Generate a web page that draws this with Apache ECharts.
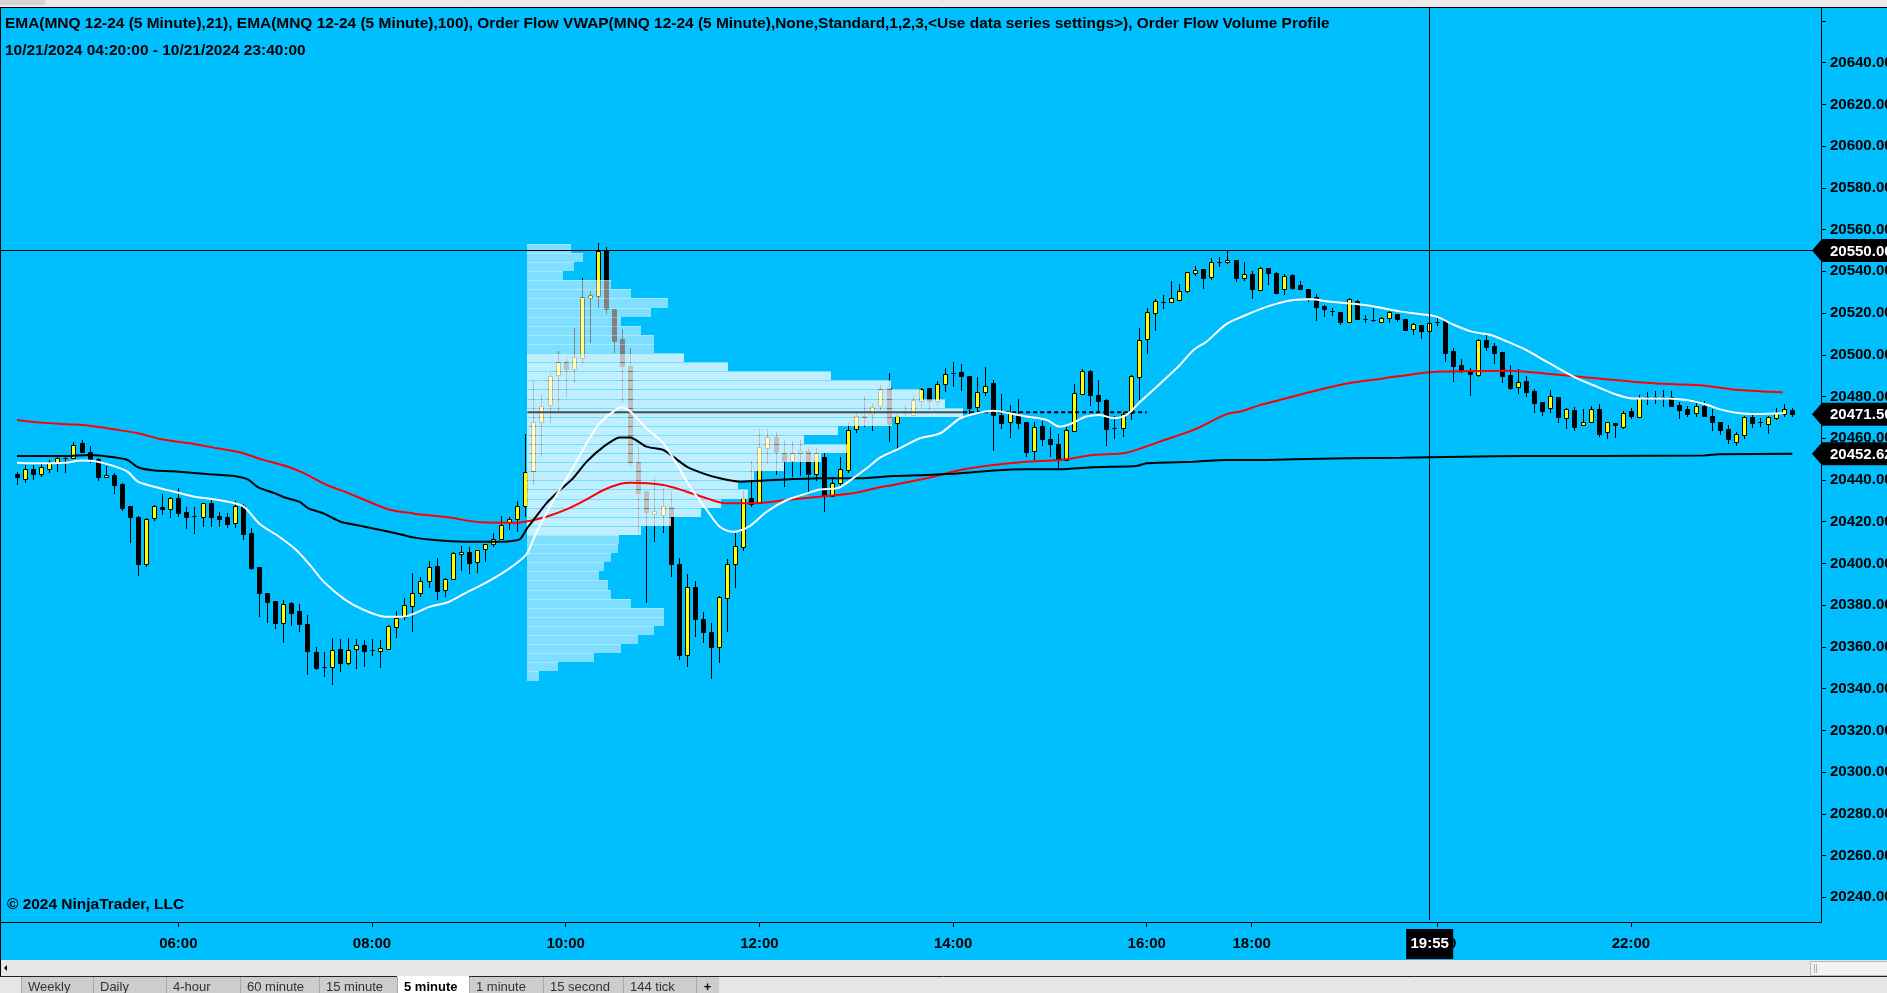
<!DOCTYPE html>
<html><head><meta charset="utf-8">
<script src="https://cdn.jsdelivr.net/npm/echarts@6.0.0/dist/echarts.min.js"></script>
<style>html,body{margin:0;padding:0;overflow:hidden;background:#e6e6e6}#c{width:1887px;height:993px}</style>
</head><body><div id="c"></div>
<script>
// ---------- DATA (bar index 0 = 04:20, 152 = 17:00, 153 = 18:05, 220 = 23:40) ----------
const opens = [20442.9,20440.6,20445.1,20442.7,20445.1,20448.3,20450.4,20450.4,20457.9,20453.6,
20449.9,20441.3,20442.4,20438.1,20427.5,20422.4,20399.9,20421.6,20426.9,20425.9,
20431.4,20424.7,20422.9,20422.4,20428.8,20422.7,20422.1,20419.6,20427.5,20414.4,
20398.1,20386.0,20381.8,20371.3,20380.9,20377.2,20371.0,20357.6,20350.2,20350.2,
20358.8,20352.1,20358.8,20360.8,20358.5,20358.2,20358.8,20369.7,20374.5,20379.8,
20386.0,20391.8,20398.8,20387.3,20392.6,20404.4,20405.5,20400.9,20407.1,20409.2,
20411.6,20419.7,20421.1,20427.5,20444.3,20467.6,20475.9,20490.2,20496.4,20493.2,
20498.5,20527.1,20528.2,20550.2,20521.8,20507.4,20494.8,20448.8,20434.7,20423.7,
20423.2,20426.9,20399.6,20356.0,20388.6,20373.2,20367.0,20360.1,20383.5,20399.6,
20407.7,20431.4,20429.1,20455.2,20460.5,20453.1,20449.3,20452.8,20453.9,20442.7,
20451.2,20432.3,20438.4,20444.8,20464.3,20470.4,20471.6,20475.5,20484.3,20467.2,
20472.0,20471.2,20478.0,20483.9,20478.0,20485.9,20491.1,20491.9,20489.8,20474.8,
20482.3,20486.3,20471.2,20467.6,20471.2,20467.6,20453.7,20465.9,20459.5,20457.3,
20449.6,20463.6,20481.2,20492.2,20480.7,20478.3,20465.1,20465.1,20472.3,20489.5,
20507.4,20519.9,20525.5,20525.2,20526.3,20530.4,20539.4,20541.0,20537.1,20544.6,
20544.3,20545.4,20536.7,20538.7,20531.1,20541.6,20539.4,20531.4,20538.3,20533.5,
20531.4,20527.5,20523.4,20521.2,20520.7,20515.9,20525.8,20517.0,20516.7,20515.9,
20517.5,20519.6,20517.0,20512.5,20514.3,20511.6,20515.9,20516.2,20501.8,20495.1,
20492.7,20490.3,20507.1,20504.2,20501.2,20490.3,20484.7,20487.4,20482.6,20477.2,
20474.4,20479.8,20469.6,20473.6,20466.2,20467.9,20473.9,20463.2,20467.2,20465.6,
20472.9,20470.0,20479.6,20479.6,20479.6,20479.6,20475.9,20474.0,20471.9,20475.5,
20470.7,20467.6,20464.3,20458.4,20461.4,20470.0,20467.6,20467.0,20469.6,20471.6,
20473.6];
const highs = [20444.0,20447.2,20447.0,20448.8,20449.6,20451.5,20452.0,20458.4,20459.2,20456.3,
20450.4,20446.7,20443.2,20438.4,20427.5,20422.7,20421.6,20428.0,20433.3,20432.0,
20436.0,20426.9,20427.2,20429.1,20430.4,20424.7,20424.0,20429.9,20428.5,20416.8,
20398.5,20386.0,20382.2,20382.5,20381.7,20380.6,20375.3,20359.8,20357.7,20364.1,
20363.9,20364.1,20363.6,20363.3,20363.6,20363.3,20370.5,20377.2,20383.3,20395.3,
20393.7,20401.2,20402.4,20392.9,20405.6,20408.3,20407.9,20406.5,20409.3,20414.4,
20422.7,20422.1,20429.8,20462.0,20487.5,20481.2,20491.9,20502.0,20499.1,20512.7,
20536.7,20530.6,20553.4,20551.5,20521.8,20512.2,20503.1,20455.7,20434.7,20441.3,
20435.5,20434.7,20402.5,20395.0,20391.6,20376.9,20371.3,20384.4,20402.0,20414.4,
20434.7,20449.3,20464.3,20464.3,20463.2,20459.2,20458.8,20459.2,20456.0,20455.2,
20453.1,20441.6,20450.9,20467.2,20472.8,20480.4,20477.1,20485.5,20491.1,20472.8,
20475.9,20480.2,20484.3,20483.9,20487.6,20493.8,20496.4,20495.6,20489.8,20489.5,
20494.3,20487.9,20481.2,20475.9,20478.7,20467.6,20467.6,20468.3,20465.6,20462.0,
20465.2,20486.0,20493.2,20492.7,20487.9,20478.7,20470.7,20472.8,20490.3,20512.7,
20522.3,20526.6,20528.7,20535.4,20533.9,20539.8,20542.6,20541.0,20546.2,20546.7,
20549.9,20545.4,20544.6,20540.0,20541.9,20541.6,20539.7,20538.7,20538.7,20535.5,
20531.4,20529.0,20523.9,20522.6,20520.7,20527.1,20526.3,20519.1,20522.3,20518.0,
20521.2,20519.6,20517.0,20515.4,20514.3,20517.0,20517.5,20516.2,20503.1,20497.8,
20493.5,20507.4,20509.5,20505.5,20501.2,20495.1,20493.0,20489.8,20483.6,20477.2,
20483.1,20479.8,20474.4,20474.8,20473.9,20475.5,20476.4,20467.9,20467.2,20473.1,
20474.4,20480.7,20482.3,20482.6,20483.1,20482.8,20477.5,20475.5,20477.1,20478.0,
20473.9,20467.9,20466.4,20462.8,20470.7,20472.3,20469.6,20470.7,20474.4,20476.4,
20474.4];
const lows = [20437.6,20438.4,20440.0,20441.3,20443.5,20444.0,20443.5,20449.9,20453.1,20448.0,
20439.7,20441.3,20433.3,20425.1,20410.0,20394.0,20398.5,20420.5,20423.2,20421.6,
20422.1,20416.5,20414.1,20417.6,20417.6,20417.6,20417.1,20417.0,20411.2,20396.9,
20374.5,20371.3,20368.4,20361.7,20370.0,20367.3,20346.5,20348.9,20345.4,20341.7,
20348.1,20351.3,20349.3,20350.2,20355.6,20350.0,20358.8,20364.1,20372.9,20367.3,
20383.8,20388.1,20382.5,20383.8,20392.1,20396.5,20394.9,20395.6,20400.9,20408.0,
20411.2,20416.0,20415.1,20422.4,20437.6,20451.2,20467.2,20472.0,20479.9,20486.3,
20496.2,20505.8,20522.3,20519.6,20500.7,20476.7,20446.1,20414.8,20381.2,20410.4,
20414.8,20393.7,20353.7,20350.2,20364.6,20361.7,20344.5,20352.1,20367.3,20388.1,
20406.1,20427.2,20429.1,20448.0,20442.4,20436.5,20441.6,20441.9,20433.3,20439.7,
20424.8,20432.0,20436.8,20443.5,20462.4,20465.3,20463.6,20473.6,20458.4,20454.9,
20470.4,20470.8,20474.3,20473.6,20475.5,20482.3,20484.7,20482.8,20471.6,20472.4,
20480.2,20454.1,20464.3,20460.0,20464.5,20451.2,20449.6,20456.3,20451.2,20445.1,
20449.3,20463.6,20480.7,20475.6,20472.8,20456.3,20459.6,20460.8,20468.8,20478.3,
20500.4,20511.6,20522.0,20524.7,20526.0,20529.5,20537.9,20531.5,20535.9,20542.2,
20543.4,20534.7,20535.5,20526.8,20530.6,20533.5,20529.5,20528.7,20531.1,20531.1,
20525.5,20516.4,20518.3,20518.6,20514.3,20515.1,20516.7,20515.4,20515.9,20515.9,
20515.4,20515.9,20511.6,20509.5,20507.6,20509.5,20513.8,20496.7,20487.1,20491.1,
20480.4,20489.5,20502.0,20495.6,20486.6,20483.1,20481.2,20479.6,20472.3,20470.8,
20472.3,20467.2,20464.4,20463.6,20465.9,20467.5,20460.8,20459.5,20460.0,20464.3,
20469.1,20470.0,20475.9,20476.4,20475.2,20475.2,20469.2,20470.4,20470.4,20470.4,
20463.6,20461.6,20457.1,20456.5,20459.7,20465.1,20465.6,20462.0,20468.7,20470.0,
20470.4];
const closes = [20441.3,20445.1,20443.0,20446.1,20448.5,20450.4,20450.4,20456.8,20453.6,20449.9,
20441.6,20442.2,20437.6,20426.7,20422.4,20399.9,20421.1,20427.5,20425.9,20431.2,
20424.3,20422.1,20422.9,20428.8,20422.4,20421.5,20418.9,20427.5,20414.0,20397.7,
20385.7,20381.7,20371.6,20380.6,20376.4,20371.0,20358.2,20350.0,20350.2,20358.5,
20352.1,20358.5,20360.8,20358.2,20358.5,20359.5,20369.9,20373.7,20379.9,20385.7,
20391.8,20398.1,20387.0,20392.4,20404.8,20405.3,20400.4,20406.3,20409.2,20411.6,
20418.3,20421.1,20427.7,20443.8,20467.6,20475.6,20489.8,20496.4,20493.2,20498.8,
20527.6,20528.5,20549.6,20521.8,20506.8,20494.8,20448.8,20433.9,20424.8,20425.3,
20427.5,20399.6,20356.1,20388.6,20373.2,20367.0,20359.8,20383.8,20399.6,20408.4,
20431.4,20428.5,20455.7,20460.5,20453.6,20449.3,20452.8,20453.9,20442.9,20452.8,
20432.3,20438.7,20445.1,20464.0,20470.7,20470.7,20474.8,20483.5,20466.7,20470.8,
20472.0,20478.3,20483.5,20478.0,20485.9,20490.8,20491.1,20490.0,20474.7,20482.3,
20485.0,20471.0,20467.2,20472.8,20467.5,20453.6,20465.2,20459.8,20457.3,20449.6,
20464.0,20481.5,20492.1,20480.7,20478.0,20464.6,20465.1,20471.6,20489.8,20507.1,
20520.4,20525.8,20525.5,20527.1,20530.4,20539.5,20540.5,20537.0,20544.6,20544.6,
20545.4,20536.7,20538.6,20531.4,20541.4,20539.1,20529.8,20537.8,20532.2,20531.4,
20527.5,20523.1,20521.8,20521.2,20515.9,20526.6,20517.2,20517.0,20516.7,20517.5,
20520.4,20517.2,20511.9,20514.6,20511.6,20515.1,20515.9,20501.0,20494.6,20492.7,
20490.8,20507.1,20503.9,20500.7,20489.8,20483.9,20486.8,20482.3,20476.7,20473.2,
20480.3,20470.0,20473.9,20465.6,20467.6,20473.9,20462.2,20467.6,20466.2,20472.3,
20470.8,20479.1,20479.6,20479.6,20479.6,20475.6,20473.6,20471.6,20475.5,20470.8,
20467.9,20464.0,20459.5,20462.0,20470.4,20467.5,20467.6,20470.0,20472.3,20473.9,
20471.5];

// EMA(21) – white as [bar, price]
const ema21 = [[0,20448.3],[2,20448.0],[6,20448.3],[8,20449.3],[10,20448.8],[12,20446.7],[13.7,20444.0],[15,20439.2],[17,20436.8],[20,20433.9],[22,20432.0],[25,20430.4],[28,20427.5],[30,20419.2],[32.5,20412.8],[34.6,20406.5],[36.3,20399.3],[38,20391.3],[40.6,20382.8],[43,20377.7],[45.7,20374.5],[47.8,20374.5],[51.2,20379.3],[53.4,20381.4],[55.5,20385.7],[57.6,20389.7],[59.8,20394.5],[61.9,20400.1],[63.2,20404.8],[64.4,20415.2],[66.5,20430.4],[68.5,20443.2],[70.6,20457.6],[72.2,20467.2],[73.9,20472.8],[74.9,20474.7],[76,20472.8],[78,20464.8],[80.1,20457.6],[81.7,20448.0],[83.4,20436.8],[85.5,20425.6],[87.1,20417.6],[88.8,20415.2],[90.8,20417.9],[92.9,20424.8],[95.4,20430.4],[97.9,20433.6],[99.5,20435.5],[101.6,20436.0],[103.6,20440.8],[105.3,20445.6],[107,20450.8],[109.4,20455.2],[111.9,20460.0],[114.4,20462.4],[116.9,20469.6],[119.3,20472.3],[121,20473.2],[123,20472.0],[125.1,20470.4],[127.6,20468.8],[129.2,20465.6],[130.5,20466.8],[132.5,20470.4],[134.2,20471.2],[135.9,20469.6],[137.5,20471.2],[139.2,20477.5],[140.8,20483.1],[142.5,20489.2],[144.1,20495.1],[145.8,20502.3],[147.4,20506.3],[149.9,20514.8],[152,20518.6],[154,20521.8],[156,20524.4],[158.2,20526.3],[160.4,20526.6],[162.6,20525.5],[164.8,20524.7],[167,20523.9],[169.3,20522.3],[171.5,20520.7],[173.7,20519.6],[175.9,20518.3],[178.1,20514.3],[180.3,20511.1],[182.5,20509.6],[184.7,20506.3],[187,20502.3],[189.2,20497.5],[191.4,20492.7],[193.6,20488.2],[195.8,20484.7],[198,20481.2],[200.2,20479.1],[204.7,20479.1],[206.9,20478.3],[209.1,20476.4],[211.3,20473.6],[213.5,20472.0],[215.7,20471.6],[219,20472.0]];
// EMA(100) – red
const ema100 = [[0,20468.8],[3,20467.5],[6.4,20466.7],[9,20466.0],[12,20464.3],[15,20462.4],[17.9,20459.5],[21.4,20457.6],[24.8,20455.2],[27.8,20453.1],[30.3,20449.9],[33.3,20446.7],[35.4,20443.5],[38.4,20437.6],[40.6,20434.4],[43.1,20430.4],[46.1,20425.9],[49.1,20424.0],[53.4,20422.1],[57.6,20419.7],[61.9,20419.5],[63.6,20420.5],[65.6,20422.4],[68.1,20425.9],[70.6,20430.7],[72.7,20435.2],[74.7,20438.1],[76,20438.7],[80.1,20437.6],[83,20434.4],[85.5,20431.2],[87.9,20428.8],[91.2,20428.8],[95.4,20430.4],[99.5,20432.0],[103.6,20433.6],[106.9,20436.5],[108.6,20437.6],[112.7,20440.8],[116.9,20444.8],[121,20447.2],[125.1,20448.8],[129.2,20449.6],[133.4,20452.0],[137.5,20453.1],[141.6,20458.4],[145.8,20464.0],[149.9,20471.6],[151.6,20472.8],[154,20475.9],[156,20477.9],[160.4,20482.3],[164.8,20486.3],[169.3,20488.7],[173.7,20491.1],[175.9,20491.9],[180.3,20492.2],[184.7,20492.4],[187,20491.9],[189.2,20491.1],[193.6,20489.5],[200.2,20487.1],[204.7,20486.0],[209.1,20485.2],[213.5,20483.1],[218.8,20482.0]];
// Order Flow VWAP – black
const vwap = [[0,20451.5],[6,20451.5],[9,20452.0],[12,20450.9],[13.7,20449.6],[15,20446.1],[17.1,20444.5],[20.1,20444.0],[23.5,20442.9],[26.9,20441.9],[28.6,20440.3],[29.9,20436.5],[32,20433.6],[33.3,20431.5],[35,20429.6],[36.1,20426.4],[38,20424.0],[40.1,20420.0],[43.1,20417.6],[46.1,20415.2],[49.1,20412.5],[51.7,20411.2],[55.5,20410.4],[59.8,20410.4],[62.3,20411.5],[63.2,20416.8],[64,20420.8],[65.6,20428.8],[67.3,20435.2],[68.9,20440.8],[70.6,20448.8],[72.7,20456.0],[74.7,20460.4],[76,20460.4],[78,20456.0],[80.1,20454.4],[81.3,20451.2],[83,20446.4],[85,20443.2],[87.1,20440.8],[89.6,20439.2],[92.1,20439.7],[95.4,20440.3],[99.5,20440.8],[104.5,20440.8],[108.6,20441.9],[112.7,20442.4],[116.9,20443.2],[121,20444.5],[125.1,20445.1],[129.2,20445.1],[133.4,20446.1],[138.7,20446.7],[140,20448.0],[141.6,20448.3],[145.8,20448.8],[149.9,20449.6],[154,20449.6],[158.2,20449.9],[164.8,20450.4],[171.5,20450.7],[179,20451.2],[187,20451.5],[195.8,20451.5],[209.1,20451.8],[210.9,20452.3],[220,20452.62]];

// Order Flow Volume Profile (RTH session, starts at bar 63.25, ends 140)
const profileStartBar = 63.25;
const profileEndBar = 140;
const profileRowSize = 4.36;
const profileRowTop = [20553.2,20548.84,20544.48,20540.12,20535.76,20531.4,20527.03,20522.67,20518.31,20513.95,20509.59,20505.23,20500.87,20496.51,20492.15,20487.79,20483.42,20479.06,20474.7,20470.34,20465.98,20461.62,20457.26,20452.9,20448.54,20444.18,20439.81,20435.45,20431.09,20426.73,20422.37,20418.01,20413.65,20409.29,20404.93,20400.57,20396.2,20391.84,20387.48,20383.12,20378.76,20374.4,20370.04,20365.68,20361.32,20356.96,20352.59,20348.23];
const profileVolume = [44,56,47,36,84,104,141,124,94,114,127,127,157,201,304,365,395,419,437,366,311,277,321,294,257,227,211,221,194,174,144,114,92,91,84,77,72,81,84,104,137,137,127,111,94,67,31,12];
const valueAreaHigh = 20500.87, valueAreaLow = 20413.65;

// crosshair and labels
const crossBar = 175, crossTime = '19:55', crossPrice = 20550.00;
const xTickBars = [20,44,68,92,116,140,153,176,200];
const xTickLabels = ['06:00','08:00','10:00','12:00','14:00','16:00','18:00','20:00','22:00'];
const yTickValues = [20240,20260,20280,20300,20320,20340,20360,20380,20400,20420,20440,20460,20480,20500,20520,20540,20560,20580,20600,20620,20640,20660];
const yLabelValues = yTickValues.slice(0, 21);

const titleLine1 = 'EMA(MNQ 12-24 (5 Minute),21), EMA(MNQ 12-24 (5 Minute),100), Order Flow VWAP(MNQ 12-24 (5 Minute),None,Standard,1,2,3,<Use data series settings>), Order Flow Volume Profile';
const titleLine2 = '10/21/2024 04:20:00 - 10/21/2024 23:40:00';
const copyright = '\u00A9 2024 NinjaTrader, LLC';
const tabLabels = ['Weekly','Daily','4-hour','60 minute','15 minute','5 minute','1 minute','15 second','144 tick','+'];
const activeTab = '5 minute';

// ---------- BUILD ----------
const FAM = '"Liberation Sans", Arial, sans-serif';
const mctx = document.createElement('canvas').getContext('2d');
function fit(text, w, weight) { mctx.font = weight + ' 100px ' + FAM; return 100 * w / mctx.measureText(text).width; }
const titleSize = Math.min(17, fit(titleLine1, 1325, 'bold'));

const candleData = opens.map((o, i) => [i, o, highs[i], lows[i], closes[i]]);
const maxVol = Math.max.apply(null, profileVolume);
const pocIdx = profileVolume.indexOf(maxVol);
const pocPrice = profileRowTop[pocIdx] - profileRowSize / 2;
const pocWidthBars = 54.0;
const profileData = profileRowTop.map((t, k) => {
  const b = t - profileRowSize;
  const va = (t <= valueAreaHigh + 0.01 && b >= valueAreaLow - 0.01) ? 1 : 0;
  return [profileStartBar, t, b, profileVolume[k], va];
});

function renderCandle(params, api) {
  const x = api.value(0), o = api.value(1), h = api.value(2), l = api.value(3), c = api.value(4);
  const pO = api.coord([x, o]), pC = api.coord([x, c]), pH = api.coord([x, h]), pL = api.coord([x, l]);
  const cx = Math.round(pO[0]);
  const top = Math.round(Math.min(pO[1], pC[1])), bot = Math.round(Math.max(pO[1], pC[1]));
  const up = c > o;
  return { type: 'group', children: [
    { type: 'line', shape: { x1: cx + 0.5, y1: Math.round(pH[1]), x2: cx + 0.5, y2: Math.round(pL[1]) }, style: { stroke: '#000', lineWidth: 1 } },
    { type: 'rect', shape: { x: cx - 1.5, y: top + 0.5, width: 4, height: Math.max(bot - top, 0) }, style: { fill: up ? '#ffff00' : '#000', stroke: '#000', lineWidth: 1 } }
  ]};
}
function renderProfile(params, api) {
  const s = api.value(0), t = api.value(1), b = api.value(2), v = api.value(3), va = api.value(4);
  const w = v / maxVol * pocWidthBars;
  const p1 = api.coord([s, t]), p2 = api.coord([s + w, b]);
  const x1 = Math.round(p1[0]), x2 = Math.round(p2[0]), y1 = Math.round(p1[1]), y2 = Math.round(p2[1]);
  return { type: 'group', children: [
    { type: 'rect', shape: { x: x1, y: y1 + 1, width: x2 - x1, height: Math.max(y2 - y1 - 1, 0) }, style: { fill: va ? 'rgba(255,255,255,0.75)' : 'rgba(255,255,255,0.5)' } },
    { type: 'rect', shape: { x: x1, y: y1, width: x2 - x1, height: 1 }, style: { fill: va ? 'rgba(255,255,255,0.45)' : 'rgba(255,255,255,0.65)' } }
  ]};
}

const chart = echarts.init(document.getElementById('c'), null, { renderer: 'canvas' });
const axisFont = { fontFamily: FAM, fontWeight: 'bold', fontSize: 15, color: '#000' };

chart.setOption({
  animation: false,
  backgroundColor: '#00bfff',
  grid: { left: 0, right: 66, top: 7, bottom: 71, containLabel: false, outerBoundsMode: 'none' },
  xAxis: {
    type: 'value', min: -2.1, max: 223.55,
    axisLine: { show: true, onZero: false, lineStyle: { color: '#000', width: 1 } },
    axisTick: { show: true, length: 5, lineStyle: { color: '#000' }, customValues: xTickBars },
    axisLabel: Object.assign({ margin: 14, customValues: xTickBars,
      formatter: v => { const k = xTickBars.indexOf(Math.round(v)); return k >= 0 ? xTickLabels[k] : ''; } }, axisFont),
    splitLine: { show: false }
  },
  yAxis: {
    type: 'value', position: 'right', min: 20228.16, max: 20666.70,
    axisLine: { show: true, onZero: false, lineStyle: { color: '#000', width: 1 } },
    axisTick: { show: true, length: 5, lineStyle: { color: '#000' }, customValues: yTickValues },
    axisLabel: Object.assign({ margin: 9, customValues: yLabelValues, formatter: v => v.toFixed(2) }, axisFont),
    splitLine: { show: false }
  },
  series: [
    { type: 'custom', name: 'MNQ 12-24', renderItem: renderCandle, data: candleData, z: 2, silent: true, encode: { x: 0, y: [1, 2, 3, 4] } },
    { type: 'custom', name: 'Volume Profile', renderItem: renderProfile, data: profileData, z: 3, silent: true, encode: { x: 0, y: [1, 2] } },
    { type: 'line', name: 'POC', data: [[profileStartBar, pocPrice], [profileStartBar + pocWidthBars, pocPrice]], symbol: 'none', lineStyle: { color: '#3a3a3a', width: 2, opacity: 0.9 }, z: 4, silent: true },
    { type: 'line', name: 'POC ext', data: [[profileStartBar + pocWidthBars, pocPrice], [profileEndBar, pocPrice]], symbol: 'none', lineStyle: { color: '#000', width: 2, type: [4, 3] }, z: 4, silent: true },
    { type: 'line', name: 'EMA100', data: ema100, symbol: 'none', smooth: 0.3, lineStyle: { color: '#ff0000', width: 2 }, z: 5, silent: true },
    { type: 'line', name: 'VWAP', data: vwap, symbol: 'none', smooth: 0.2, lineStyle: { color: '#000', width: 2 }, z: 5, silent: true },
    { type: 'line', name: 'EMA21', data: ema21, symbol: 'none', smooth: 0.3, lineStyle: { color: '#ffffff', width: 2 }, z: 6, silent: true }
  ]
});

// ---------- overlays (positions from the chart's own scales) ----------
const cross = chart.convertToPixel({ gridIndex: 0 }, [crossBar, crossPrice]);
const lastY = chart.convertToPixel({ gridIndex: 0 }, [0, closes[closes.length - 1]])[1];
const vwapY = chart.convertToPixel({ gridIndex: 0 }, [0, vwap[vwap.length - 1][1]])[1];
const plotTop = 7, plotBottom = 922, W = 1887;

function priceTag(y, text) {
  return [
    { type: 'polygon', z: 100, shape: { points: [[1812, y], [1822, y - 11.5], [W, y - 11.5], [W, y + 11.5], [1822, y + 11.5]] }, style: { fill: '#000' } },
    { type: 'text', z: 101, style: { x: 1830, y: y + 1, text: text, fill: '#fff', font: 'bold 15px ' + FAM, align: 'left', verticalAlign: 'middle' } }
  ];
}
const g = [];
// window chrome
g.push({ type: 'rect', z: 90, shape: { x: 0, y: 0, width: W, height: 7 }, style: { fill: '#ebebeb' } });
g.push({ type: 'rect', z: 90, shape: { x: 0, y: 0, width: 45, height: 5 }, style: { fill: '#d4d4d4' } });
g.push({ type: 'line', z: 91, shape: { x1: 0, y1: 7.5, x2: W, y2: 7.5 }, style: { stroke: '#000', lineWidth: 1 } });
g.push({ type: 'line', z: 91, shape: { x1: 0.5, y1: 7, x2: 0.5, y2: 976 }, style: { stroke: '#000', lineWidth: 1 } });
g.push({ type: 'rect', z: 90, shape: { x: 0, y: 960, width: W, height: 33 }, style: { fill: '#e6e6e6' } });
g.push({ type: 'line', z: 91, shape: { x1: 0.5, y1: 960, x2: 0.5, y2: 976 }, style: { stroke: '#000', lineWidth: 1 } });
g.push({ type: 'polygon', z: 91, shape: { points: [[4, 968], [7, 965], [7, 971]] }, style: { fill: '#000' } });
g.push({ type: 'rect', z: 91, shape: { x: 1810.5, y: 961.5, width: 80, height: 14 }, style: { fill: '#f2f2f2', stroke: '#b9b9b9', lineWidth: 1 } });
g.push({ type: 'line', z: 92, shape: { x1: 1814.5, y1: 964, x2: 1814.5, y2: 973 }, style: { stroke: '#b0b0b0', lineWidth: 1 } });
g.push({ type: 'line', z: 92, shape: { x1: 1816.5, y1: 964, x2: 1816.5, y2: 973 }, style: { stroke: '#b0b0b0', lineWidth: 1 } });
g.push({ type: 'line', z: 91, shape: { x1: 0, y1: 976.5, x2: W, y2: 976.5 }, style: { stroke: '#222', lineWidth: 1 } });
// tabs
const tabEdges = [21, 93, 166, 240, 319, 397, 469, 543, 623, 696, 719];
tabLabels.forEach((t, i) => {
  const x0 = tabEdges[i], x1 = tabEdges[i + 1], act = t === activeTab;
  g.push({ type: 'rect', z: 93, shape: { x: x0, y: act ? 976 : 977, width: x1 - x0, height: 20 }, style: { fill: act ? '#ffffff' : '#cdcdcd' } });
  g.push({ type: 'line', z: 94, shape: { x1: x0 + 0.5, y1: 977, x2: x0 + 0.5, y2: 993 }, style: { stroke: '#a9a9a9', lineWidth: 1 } });
  g.push({ type: 'text', z: 95, style: { x: t === '+' ? (x0 + x1) / 2 : x0 + 7, y: 987, text: t, fill: act || t === '+' ? '#000' : '#333', font: (act || t === '+' ? 'bold ' : '') + '13px ' + FAM, align: t === '+' ? 'center' : 'left', verticalAlign: 'middle' } });
});
// titles
g.push({ type: 'text', z: 100, style: { x: 5, y: 24, text: titleLine1, fill: '#000', font: 'bold ' + titleSize.toFixed(2) + 'px ' + FAM, align: 'left', verticalAlign: 'middle' } });
g.push({ type: 'text', z: 100, style: { x: 5, y: 51, text: titleLine2, fill: '#000', font: 'bold ' + titleSize.toFixed(2) + 'px ' + FAM, align: 'left', verticalAlign: 'middle' } });
g.push({ type: 'text', z: 100, style: { x: 7, y: 905, text: copyright, fill: '#000', font: 'bold ' + titleSize.toFixed(2) + 'px ' + FAM, align: 'left', verticalAlign: 'middle' } });
// crosshair
g.push({ type: 'line', z: 99, shape: { x1: Math.round(cross[0]) + 0.5, y1: plotTop, x2: Math.round(cross[0]) + 0.5, y2: plotBottom - 2 }, style: { stroke: '#000', lineWidth: 1 } });
g.push({ type: 'line', z: 99, shape: { x1: 0, y1: Math.round(cross[1]) + 0.5, x2: 1812, y2: Math.round(cross[1]) + 0.5 }, style: { stroke: '#000', lineWidth: 1 } });
g.push({ type: 'rect', z: 100, shape: { x: cross[0] - 23, y: 929, width: 47, height: 30 }, style: { fill: '#000' } });
g.push({ type: 'text', z: 101, style: { x: cross[0] + 0.5, y: 944, text: crossTime, fill: '#fff', font: 'bold 15px ' + FAM, align: 'center', verticalAlign: 'middle' } });
// price tags
priceTag(cross[1], crossPrice.toFixed(2)).forEach(e => g.push(e));
priceTag(lastY, closes[closes.length - 1].toFixed(2)).forEach(e => g.push(e));
priceTag(vwapY, vwap[vwap.length - 1][1].toFixed(2)).forEach(e => g.push(e));

chart.setOption({ graphic: { elements: g } });
</script>
</body></html>
